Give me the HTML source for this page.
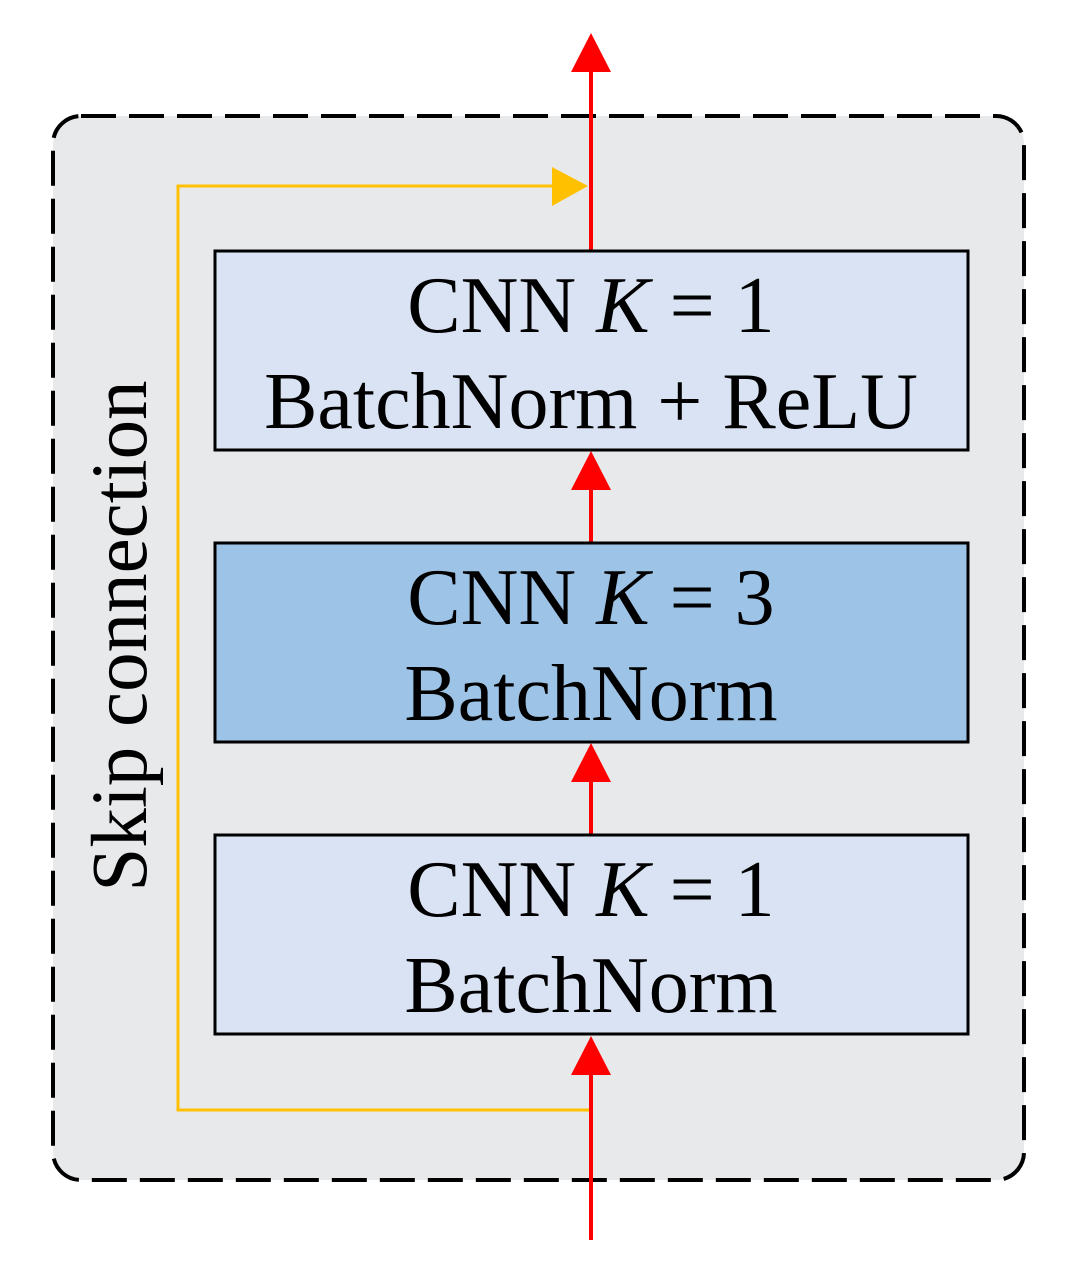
<!DOCTYPE html>
<html><head><style>body{margin:0;background:#fff}</style></head><body>
<svg width="1070" height="1283" viewBox="0 0 1070 1283" xmlns="http://www.w3.org/2000/svg" font-family="Liberation Serif, serif">
<rect x="53" y="116" width="971" height="1064" rx="28" fill="#e8e9eb" stroke="#000" stroke-width="4" stroke-dasharray="35,13"/>
<polyline points="591,1110 178,1110 178,186 560,186" fill="none" stroke="#ffc000" stroke-width="3"/>
<polygon points="588,186 552,167 552,206" fill="#ffc000"/>
<line x1="591" y1="1240" x2="591" y2="1070" stroke="#f00" stroke-width="4"/>
<polygon points="591,1036 571,1075 611,1075" fill="#f00"/>
<line x1="591" y1="835" x2="591" y2="780" stroke="#f00" stroke-width="4"/>
<polygon points="591,743 571,782 611,782" fill="#f00"/>
<line x1="591" y1="543" x2="591" y2="488" stroke="#f00" stroke-width="4"/>
<polygon points="591,451 571,490 611,490" fill="#f00"/>
<line x1="591" y1="251" x2="591" y2="68" stroke="#f00" stroke-width="4"/>
<polygon points="591,33 571,72 611,72" fill="#f00"/>
<rect x="215" y="251" width="753" height="199" fill="#dae3f3" stroke="#000" stroke-width="3"/>
<rect x="215" y="543" width="753" height="199" fill="#9dc3e6" stroke="#000" stroke-width="3"/>
<rect x="215" y="835" width="753" height="199" fill="#dae3f3" stroke="#000" stroke-width="3"/>
<g font-size="80" text-anchor="middle" fill="#000">
<text x="591" y="332">CNN <tspan font-style="italic">K</tspan> = 1</text>
<text x="591" y="428">BatchNorm + ReLU</text>
<text x="591" y="624">CNN <tspan font-style="italic">K</tspan> = 3</text>
<text x="591" y="720">BatchNorm</text>
<text x="591" y="916">CNN <tspan font-style="italic">K</tspan> = 1</text>
<text x="591" y="1012">BatchNorm</text>
</g>
<text transform="translate(146,636) rotate(-90)" font-size="79" text-anchor="middle">Skip connection</text>
</svg>
</body></html>
